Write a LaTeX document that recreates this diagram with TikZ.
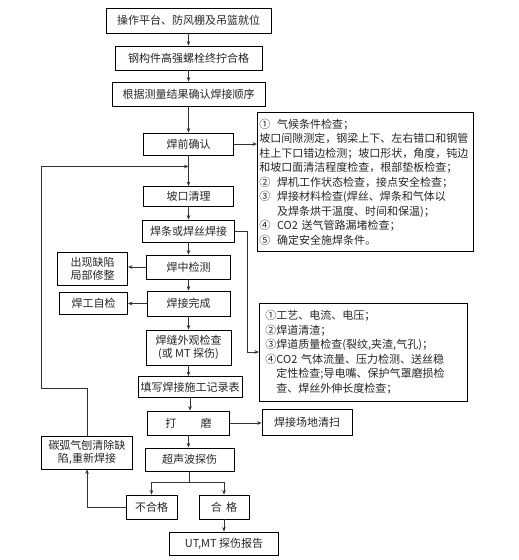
\documentclass[tikz,border=0pt]{standalone}
\usepackage{fontspec}
\setmainfont{Noto Sans CJK SC}
\usetikzlibrary{arrows.meta}

\tikzset{
  stepbox/.style={draw, line width=0.9pt, inner sep=1pt, align=center, text=black!85,
    font=\fontsize{11}{13.5}\selectfont},
  notebox/.style={draw, line width=0.9pt, anchor=north west, inner ysep=2pt, align=left, text=black!85,
    font=\fontsize{11}{14.5}\selectfont},
  flow/.style={draw=black!80, line width=0.6pt, -{Stealth[length=4.5pt,width=3.6pt]}},
  lead/.style={draw=black!80, line width=0.6pt},
}

\begin{document}
\begin{tikzpicture}[x=1pt, y=-1pt]
    \useasboundingbox (0,0) rectangle (519,560);
    % main column, one box per step (coordinates in pixels of the sheet)
    \node[stepbox, minimum width=165pt, minimum height=25pt] (platform) at (188.5,20.5) {操作平台、防风棚及吊篮就位};
    \node[stepbox, minimum width=147pt, minimum height=24pt] (strength) at (188.5,58) {钢构件高强螺栓终拧合格};
    \node[stepbox, minimum width=153pt, minimum height=24pt] (sequence) at (188.5,94) {根据测量结果确认焊接顺序};
    \node[stepbox, minimum width=90pt, minimum height=22pt]  (precheck) at (188.5,144) {焊前确认};
    \node[stepbox, minimum width=90pt, minimum height=20pt]  (groove)   at (188.5,196.5) {坡口清理};
    \node[stepbox, minimum width=92pt, minimum height=22pt]  (weld)     at (188.5,231) {焊条或焊丝焊接};
    \node[stepbox, minimum width=84pt, minimum height=24pt]  (midcheck) at (188.5,267) {焊中检测};
    \node[stepbox, minimum width=83pt, minimum height=25pt]  (finish)   at (188.5,303.5) {焊接完成};
    \node[stepbox, minimum width=85pt, minimum height=35pt]  (visual)   at (188.5,347.5) {焊缝外观检查\\(或 MT 探伤)};
    \node[stepbox, minimum width=104pt, minimum height=21pt] (record)   at (190,387) {填写焊接施工记录表};
    \node[stepbox, minimum width=82pt, minimum height=24pt]  (grind)    at (188.5,423) {打\hspace{2.2em}磨};
    \node[stepbox, minimum width=89pt, minimum height=23pt]  (ultra)    at (189.5,459.5) {超声波探伤};
    \node[stepbox, minimum width=51pt, minimum height=24pt]  (fail)     at (151.5,507) {不合格};
    \node[stepbox, minimum width=50pt, minimum height=24pt]  (pass)     at (224,507) {合\hspace{0.4em}格};
    \node[stepbox, minimum width=109pt, minimum height=23pt] (report)   at (224,543.5) {UT,MT 探伤报告};
    % side boxes
    \node[stepbox, minimum width=70pt, minimum height=33pt]  (repair)    at (92.5,269) {出现缺陷\\局部修整};
    \node[stepbox, minimum width=68pt, minimum height=22pt]  (selfcheck) at (93.5,303) {焊工自检};
    \node[stepbox, minimum width=91pt, minimum height=33pt]  (gouge)     at (87,452.5) {碳弧气刨清除缺\\陷,重新焊接};
    \node[stepbox, minimum width=90pt, minimum height=26pt]  (sweep)     at (307,422) {焊接场地清扫};
    % check lists on the right
    \node[notebox, text width=212pt, inner xsep=2pt, minimum height=139pt] (checkA) at (257,112) {%
      ①\hspace{0.6em}气候条件检查；\\
      坡口间隙测定，钢梁上下、左右错口和钢管\\
      柱上下口错边检测；坡口形状，角度，钝边\\
      和坡口面清洁程度检查，根部垫板检查；\\
      ②\hspace{0.6em}焊机工作状态检查，接点安全检查；\\
      ③\hspace{0.6em}焊接材料检查(焊丝、焊条和气体以\\
      \hspace{1.6em}及焊条烘干温度、时间和保温)；\\
      ④\hspace{0.6em}CO2 送气管路漏堵检查；\\
      ⑤\hspace{0.6em}确定安全施焊条件。};
    \node[notebox, text width=196pt, inner xsep=6pt, minimum height=98pt] (checkB) at (259,303) {%
      ①工艺、电流、电压；\\
      ②焊道清渣；\\
      ③焊道质量检查(裂纹,夹渣,气孔)；\\
      ④CO2 气体流量、压力检测、送丝稳\\
      \hspace{1em}定性检查;导电嘴、保护气罩磨损检\\
      \hspace{1em}查、焊丝外伸长度检查；};

    % straight steps down the column
    \foreach \a/\b in {platform/strength, strength/sequence, sequence/precheck, precheck/groove,
                       groove/weld, weld/midcheck, midcheck/finish, finish/visual,
                       visual/record, record/grind, grind/ultra, pass/report}
      \draw[flow] (\a.south) -- (\a.south |- \b.north);
    % side arrows
    \draw[flow] (precheck.east) -- (precheck.east -| checkA.west);
    \draw[flow] (midcheck.west) -- (midcheck.west -| repair.east);
    \draw[flow] (finish.west) -- (finish.west -| selfcheck.east);
    \draw[flow] (grind.east) -- (grind.east -| sweep.west);
    \coordinate (tap) at (247,352);
    \draw[flow] (weld.east) -| (tap) -- (tap -| checkB.west);
    % rework loop back to the top
    \coordinate (loopA) at (41.5,388);
    \coordinate (loopB) at (41.5,166.5);
    \draw[flow] (gouge.north) |- (loopA) -- (loopB) -- (loopB -| precheck.south);
    % ultrasonic result split
    \coordinate (fork) at (189.5,482.5);
    \draw[lead] (ultra.south) -- (fork);
    \draw[flow] (fork) -| (fail.north);
    \draw[flow] (fork) -| (pass.north);
    \draw[flow] (fail.west) -| (gouge.south);
\end{tikzpicture}
\end{document}
